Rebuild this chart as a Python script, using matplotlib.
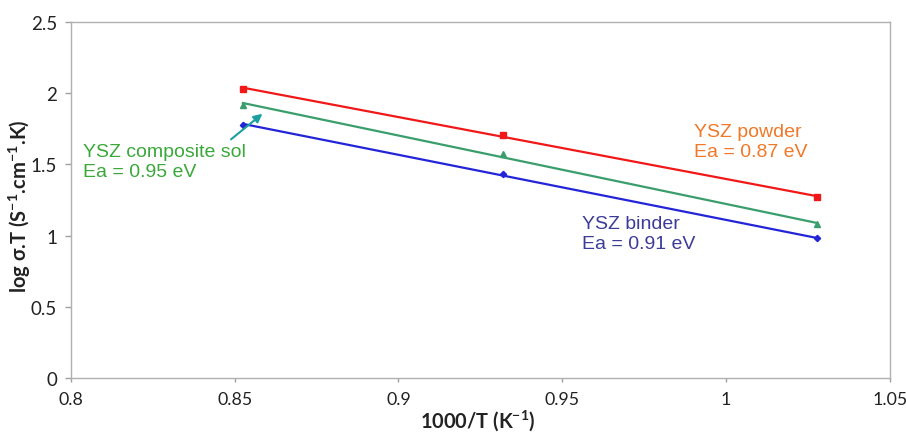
import numpy as np
import matplotlib
matplotlib.use("Agg")
import matplotlib.pyplot as plt

# Inverse temperature (1000/T, K^-1) and log(sigma.T) for each sample
inv_T = [0.8525, 0.932, 1.0277]
powder = [2.03, 1.71, 1.27]
composite_sol = [1.92, 1.57, 1.08]
binder = [1.78, 1.43, 0.98]

x_ticks = [0.8, 0.85, 0.9, 0.95, 1.0, 1.05]
x_tick_labels = ["0.8", "0.85", "0.9", "0.95", "1", "1.05"]
y_ticks = [0, 0.5, 1.0, 1.5, 2.0, 2.5]
y_tick_labels = ["0", "0.5", "1", "1.5", "2", "2.5"]

fig = plt.figure(figsize=(9.06, 4.35), dpi=100)
ax = fig.add_axes([0.0784, 0.1287, 0.9036, 0.8183])

series = [
    (powder, "#f01818", "s", 4.0),
    (composite_sol, "#3a9e6c", "^", 4.5),
    (binder, "#2424d8", "D", 3.2),
]
xs = np.array(inv_T)
for vals, col, mk, ms in series:
    slope, icpt = np.polyfit(xs, np.array(vals), 1)
    ax.plot(xs[[0, -1]], slope * xs[[0, -1]] + icpt, color=col, lw=1.6, zorder=2)
    ax.plot(xs, vals, linestyle="none", marker=mk, ms=ms, color=col,
            mec=col, zorder=3)

ax.set_xlim(0.8, 1.05)
ax.set_ylim(0, 2.5)
ax.set_xticks(x_ticks)
ax.set_xticklabels(x_tick_labels)
ax.set_yticks(y_ticks)
ax.set_yticklabels(y_tick_labels)

for s in ax.spines.values():
    s.set_color("#b0b0b0")
    s.set_linewidth(1.0)
ax.tick_params(axis="both", direction="out", length=4, width=1.0,
               color="#a0a0a0", labelcolor="#222222")
ax.tick_params(axis="x", pad=6, length=3, labelsize=12.8)
ax.tick_params(axis="y", pad=6, labelsize=13.5)
for lab in ax.get_xticklabels() + ax.get_yticklabels():
    lab.set_family(["Lato", "DejaVu Sans"])

ax.set_xlabel("1000/T (K$^{\\mathregular{-1}}$)", fontsize=14.4, fontweight="bold",
              family=["Lato", "DejaVu Sans"], color="#222222", va="center")
ax.xaxis.set_label_coords(0.497, -0.118)
ax.set_ylabel("log σ.T (S$^{\\mathregular{-1}}$.cm$^{\\mathregular{-1}}$.K)", fontsize=14.5,
              fontweight="bold", family=["Lato", "DejaVu Sans"], color="#222222",
              va="center", ha="center")
ax.yaxis.set_label_coords(-0.063, 0.485)

txt = dict(fontsize=14, family=["Liberation Sans", "DejaVu Sans"], va="center",
           ha="left", linespacing=1.2)
ax.text(0.8037, 1.52, "YSZ composite sol\nEa = 0.95 eV", color="#3aa83a", **txt)
ax.text(0.9902, 1.66, "YSZ powder\nEa = 0.87 eV", color="#f07828", **txt)
ax.text(0.9561, 1.015, "YSZ binder\nEa = 0.91 eV", color="#3c3c98", **txt)

ax.annotate("", xy=(0.8591, 1.868), xytext=(0.8482, 1.664),
            arrowprops=dict(arrowstyle="-|>,head_length=0.5,head_width=0.25",
                            color="#1aa0a0", lw=1.5))

fig.savefig("out.png", dpi=100)
